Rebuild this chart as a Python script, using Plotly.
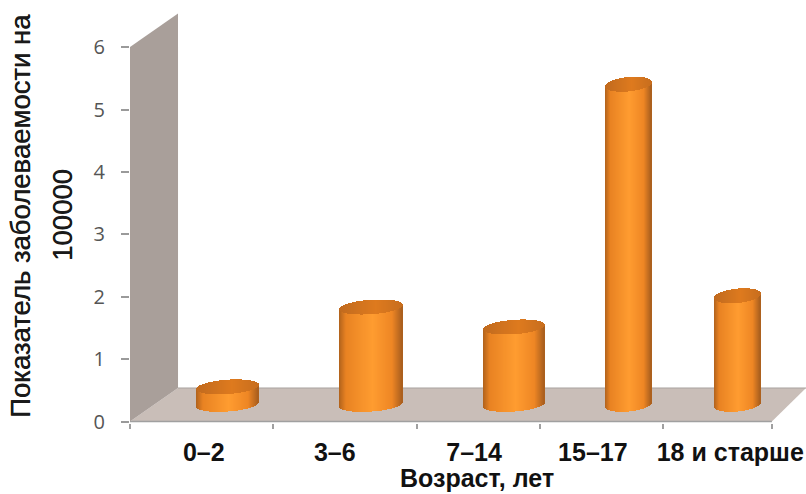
import numpy as np
import plotly.graph_objects as go

# Incidence per 100000 by age group
categories = ["0–2", "3–6", "7–14", "15–17", "18 и старше"]
values = [0.28, 1.56, 1.24, 5.13, 1.74]
y_ticks = [0, 1, 2, 3, 4, 5, 6]

# Placement along the floor, in category-slot units
bar_centers = [0.760, 1.878, 2.992, 3.886, 4.735]
bar_widths = [0.484, 0.484, 0.470, 0.360, 0.360]
label_centers = [0.575, 1.595, 2.680, 3.605, 4.675]
slot_edges = [0, 1.114, 2.235, 3.193, 4.151, 4.999]

WIDTH, HEIGHT = 806, 494
SLOT_PX, VALUE_PX = 128.4, 62.4
FLOOR_DEPTH_X, FLOOR_DEPTH_Y = 0.374, 0.537   # box depth in axis units
BASE_LEVEL = 0.275      # where a cylinder's axis meets the floor
CAP_SEMI = 0.115        # ellipse half-height in value units
CAP_TILT = 0.035        # rise of the ellipse towards its right side

X_MAX = (WIDTH - 130) / SLOT_PX
Y_MIN, Y_MAX = -1.5 / VALUE_PX, 421.5 / VALUE_PX


def mix(c0, c1, t):
    return tuple(a + (b - a) * t for a, b in zip(c0, c1))


def side_color(u):
    """Shading across the cylinder wall; u runs from -1 to 1."""
    stops = [(-1, (176, 98, 28)), (-0.78, (232, 130, 34)), (0.05, (255, 156, 48)),
             (0.68, (238, 134, 36)), (1, (168, 94, 30))]
    for (u0, c0), (u1, c1) in zip(stops, stops[1:]):
        if u <= u1:
            r, g, b = mix(c0, c1, (u - u0) / (u1 - u0))
            return f"rgb({r:.0f},{g:.0f},{b:.0f})"
    return "rgb(168,94,30)"


def cap_color(u):
    r, g, b = mix((196, 108, 30), (222, 122, 30), 1 - abs(u - 0.15))
    return f"rgb({r:.0f},{g:.0f},{b:.0f})"


fig = go.Figure()

for center, width, value in zip(bar_centers, bar_widths, values):
    n = int(round(width * SLOT_PX))
    u = (np.arange(n) + 0.5) / n * 2 - 1
    strip_x = center + u * width / 2
    strip_w = np.full(n, width / n * 1.25)
    arc = CAP_SEMI * np.sqrt(1 - u ** 2)
    rise = CAP_TILT * u

    # Cylinder wall: one-pixel strips, each as tall as the value
    fig.add_trace(go.Bar(
        x=strip_x, y=np.full(n, value), base=BASE_LEVEL + rise - arc, width=strip_w,
        marker=dict(color=[side_color(v) for v in u], line_width=0),
        xaxis="x", yaxis="y", hoverinfo="skip", showlegend=False,
    ))
    # Top face of the cylinder
    fig.add_trace(go.Bar(
        x=strip_x, y=2 * arc, base=BASE_LEVEL + value + rise - arc, width=strip_w,
        marker=dict(color=[cap_color(v) for v in u], line_width=0),
        xaxis="x", yaxis="y", hoverinfo="skip", showlegend=False,
    ))

# Labels sit on a second x axis so the tick marks can stay on the slot edges
fig.add_trace(go.Scatter(x=label_centers, y=[0] * 5, xaxis="x2", yaxis="y", mode="markers",
                         marker=dict(opacity=0), hoverinfo="skip", showlegend=False))


def polygon(points, color):
    path = "M " + " L ".join(f"{x},{y}" for x, y in points) + " Z"
    return dict(type="path", path=path, xref="x", yref="y", fillcolor=color,
                line=dict(width=0), layer="below")


wall = [(0, 0), (0, 6), (FLOOR_DEPTH_X, 6 + FLOOR_DEPTH_Y), (FLOOR_DEPTH_X, FLOOR_DEPTH_Y)]
floor = [(0, 0), (FLOOR_DEPTH_X, FLOOR_DEPTH_Y), (X_MAX, FLOOR_DEPTH_Y), (slot_edges[-1], 0)]
back_edge = dict(type="line", xref="x", yref="y", x0=FLOOR_DEPTH_X, x1=X_MAX,
                 y0=FLOOR_DEPTH_Y, y1=FLOOR_DEPTH_Y, line=dict(color="#A9A3A0", width=1), layer="below")
front_edge = dict(type="line", xref="x", yref="y", x0=0, x1=slot_edges[-1],
                  y0=0, y1=0, line=dict(color="#A0A0A0", width=1.5), layer="below")

heavy = "0.5px 0 0 #222222"

fig.update_layout(
    width=WIDTH, height=HEIGHT, paper_bgcolor="white", plot_bgcolor="white",
    margin=dict(l=130, r=0, t=0, b=HEIGHT - 423, autoexpand=False),
    barmode="overlay", bargap=0, showlegend=False,
    shapes=[polygon(floor, "#C9BEB8"), polygon(wall, "#A99F9A"), back_edge, front_edge],
    xaxis=dict(range=[0, X_MAX], tickmode="array", tickvals=slot_edges, showticklabels=False,
               ticks="outside", ticklen=5, tickcolor="#A0A0A0", tickwidth=1.5,
               showgrid=False, zeroline=False, showline=False),
    xaxis2=dict(range=[0, X_MAX], overlaying="x", side="bottom", anchor="y",
                tickmode="array", tickvals=label_centers,
                ticktext=[f"<b>{c}</b>" for c in categories], ticks="",
                ticklabelstandoff=12, showgrid=False, zeroline=False, showline=False,
                tickfont=dict(family="Liberation Sans", size=25, color="#111111")),
    yaxis=dict(range=[Y_MIN, Y_MAX], tickmode="array", tickvals=y_ticks, ticks="outside",
               ticklen=8, tickcolor="#9A9A9A", tickwidth=1.5, showgrid=False, zeroline=False,
               showline=False, ticklabelstandoff=12,
               tickfont=dict(family="Open Sans", size=20, color="#555555")),
    annotations=[
        dict(text="<b>Возраст, лет</b>", xref="paper", yref="paper", x=(477 - 130) / (WIDTH - 130),
             y=(423 - 478) / 423, showarrow=False, xanchor="center", yanchor="middle",
             font=dict(family="Liberation Sans", size=25, color="#111111")),
        dict(text="Показатель заболеваемости на", xref="paper", yref="paper", textangle=-90,
             x=(20 - 130) / (WIDTH - 130), y=(423 - 216) / 423, showarrow=False,
             xanchor="center", yanchor="middle",
             font=dict(family="Liberation Sans", size=27.5, color="#1a1a1a", shadow=heavy)),
        dict(text="100000", xref="paper", yref="paper", textangle=-90,
             x=(63 - 130) / (WIDTH - 130), y=(423 - 215) / 423, showarrow=False,
             xanchor="center", yanchor="middle",
             font=dict(family="Liberation Sans", size=27.5, color="#1a1a1a", shadow=heavy)),
    ],
)

fig.write_html("out.html", config=dict(displayModeBar=False))
